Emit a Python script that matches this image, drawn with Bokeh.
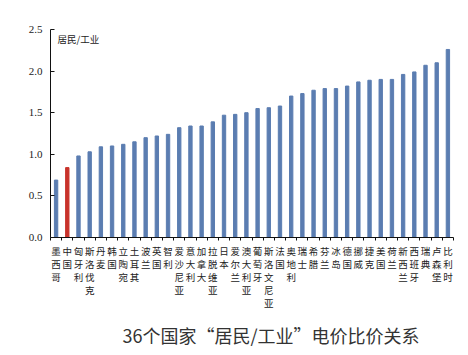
from bokeh.plotting import figure
from bokeh.models import FixedTicker, Range1d, Label, ColumnDataSource, Title
from bokeh.embed import file_html
from bokeh.resources import INLINE

countries = ["墨西哥", "中国", "匈牙利", "斯洛伐克", "丹麦", "韩国", "立陶宛", "土耳其",
             "波兰", "英国", "智利", "爱沙尼亚", "意大利", "加拿大", "拉脱维亚", "日本",
             "爱尔兰", "澳大利亚", "葡萄牙", "斯洛文尼亚", "法国", "奥地利", "瑞士", "希腊",
             "芬兰", "冰岛", "德国", "挪威", "捷克", "美国", "荷兰", "新西兰", "西班牙",
             "瑞典", "卢森堡", "比利时"]
ratios = [0.69, 0.84, 0.98, 1.03, 1.09, 1.10, 1.12, 1.15, 1.20, 1.22, 1.24, 1.32, 1.34,
          1.34, 1.39, 1.47, 1.48, 1.50, 1.55, 1.56, 1.58, 1.70, 1.73, 1.77, 1.79, 1.79,
          1.82, 1.87, 1.89, 1.90, 1.90, 1.96, 1.99, 2.07, 2.10, 2.26]
highlight = "中国"
y_ticks = [0.0, 0.5, 1.0, 1.5, 2.0, 2.5]
y_title = "居民/工业"
caption = "36个国家“居民/工业”电价比价关系"

BLUE = "#5B7DB1"
RED = "#C8332B"

n = len(countries)
centers = [i + 0.5 for i in range(n)]
colors = [RED if c == highlight else BLUE for c in countries]
src = ColumnDataSource(dict(x=centers, top=ratios, color=colors))

p = figure(width=458, height=355, output_backend="svg", toolbar_location=None,
           x_range=Range1d(0, n), y_range=Range1d(0, 2.5),
           min_border_left=50, min_border_right=5, min_border_top=29, min_border_bottom=117)
p.outline_line_color = None
p.grid.visible = False
p.background_fill_color = "white"
p.border_fill_color = "white"

p.vbar(x="x", top="top", width=0.3, color="color", source=src)

# y axis
ya = p.yaxis[0]
ya.ticker = FixedTicker(ticks=y_ticks)
ya.major_label_overrides = {t: f"{t:.1f}" for t in y_ticks}
ya.major_tick_in = 4
ya.major_tick_out = 0
ya.minor_tick_line_color = None
ya.major_label_standoff = 8
ya.major_label_text_font = "Liberation Serif"
ya.major_label_text_font_size = "11px"
ya.major_label_text_color = "#222222"
ya.axis_line_color = "#111111"
ya.major_tick_line_color = "#111111"

# x axis
xa = p.xaxis[0]
xa.ticker = FixedTicker(ticks=centers, minor_ticks=list(range(n + 1)))
xa.major_label_overrides = {c: "\n".join(list(name)) for c, name in zip(centers, countries)}
xa.major_tick_line_color = None
xa.minor_tick_in = 0
xa.minor_tick_out = 3
xa.minor_tick_line_color = "#111111"
xa.axis_line_color = "#111111"
xa.major_label_standoff = 2
xa.major_label_text_font = "Liberation Sans, Noto Sans CJK SC"
xa.major_label_text_font_size = "9.5px"
xa.major_label_text_color = "#222222"

p.add_layout(Label(x=0.62, y=2.39, text=y_title, text_font="Noto Sans CJK SC",
                   text_font_size="9.5px", text_color="#222222", text_baseline="middle"))
p.add_layout(Title(text=caption, align="left", offset=72, standoff=15,
                   text_font="Noto Sans CJK SC", text_font_size="18px",
                   text_font_style="normal", text_color="#333333"), "below")

open("out.html", "w").write(file_html(p, INLINE))
